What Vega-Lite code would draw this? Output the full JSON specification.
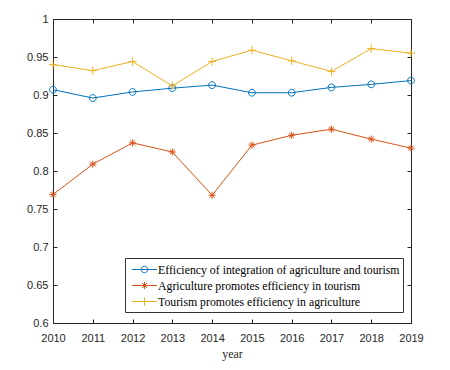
{
  "$schema": "https://vega.github.io/schema/vega-lite/v6.json",
  "autosize": "none",
  "padding": {"left": 53, "top": 19, "right": 39, "bottom": 47},
  "width": 358,
  "height": 304,
  "background": "white",
  "config": {
    "view": {"stroke": null},
    "axis": {
      "grid": false,
      "domainColor": "#262626",
      "tickColor": "#262626",
      "labelColor": "#262626",
      "labelFont": "Liberation Sans",
      "labelFontSize": 11,
      "labelFlush": false,
      "titleFont": "Liberation Serif",
      "titleFontSize": 12,
      "titleFontWeight": "normal",
      "titleColor": "#262626"
    },
    "legend": {
      "title": null,
      "orient": "none",
      "legendX": 72,
      "legendY": 239,
      "direction": "vertical",
      "padding": 3,
      "strokeColor": "#333333",
      "fillColor": "white",
      "symbolSize": 256,
      "symbolOffset": 8,
      "symbolStrokeWidth": 1,
      "rowPadding": 0,
      "labelFont": "Liberation Serif",
      "labelFontSize": 11.8,
      "labelColor": "#000000",
      "labelLimit": 400,
      "labelOffset": 5
    }
  },
  "data": {
    "values": [
      {"year": 2010, "series": "Efficiency of integration of agriculture and tourism", "value": 0.907},
      {"year": 2011, "series": "Efficiency of integration of agriculture and tourism", "value": 0.896},
      {"year": 2012, "series": "Efficiency of integration of agriculture and tourism", "value": 0.904},
      {"year": 2013, "series": "Efficiency of integration of agriculture and tourism", "value": 0.909},
      {"year": 2014, "series": "Efficiency of integration of agriculture and tourism", "value": 0.913},
      {"year": 2015, "series": "Efficiency of integration of agriculture and tourism", "value": 0.903},
      {"year": 2016, "series": "Efficiency of integration of agriculture and tourism", "value": 0.903},
      {"year": 2017, "series": "Efficiency of integration of agriculture and tourism", "value": 0.910},
      {"year": 2018, "series": "Efficiency of integration of agriculture and tourism", "value": 0.914},
      {"year": 2019, "series": "Efficiency of integration of agriculture and tourism", "value": 0.919},
      {"year": 2010, "series": "Agriculture promotes efficiency in tourism", "value": 0.769},
      {"year": 2011, "series": "Agriculture promotes efficiency in tourism", "value": 0.809},
      {"year": 2012, "series": "Agriculture promotes efficiency in tourism", "value": 0.837},
      {"year": 2013, "series": "Agriculture promotes efficiency in tourism", "value": 0.825},
      {"year": 2014, "series": "Agriculture promotes efficiency in tourism", "value": 0.768},
      {"year": 2015, "series": "Agriculture promotes efficiency in tourism", "value": 0.834},
      {"year": 2016, "series": "Agriculture promotes efficiency in tourism", "value": 0.847},
      {"year": 2017, "series": "Agriculture promotes efficiency in tourism", "value": 0.855},
      {"year": 2018, "series": "Agriculture promotes efficiency in tourism", "value": 0.842},
      {"year": 2019, "series": "Agriculture promotes efficiency in tourism", "value": 0.830},
      {"year": 2010, "series": "Tourism promotes efficiency in agriculture", "value": 0.940},
      {"year": 2011, "series": "Tourism promotes efficiency in agriculture", "value": 0.932},
      {"year": 2012, "series": "Tourism promotes efficiency in agriculture", "value": 0.944},
      {"year": 2013, "series": "Tourism promotes efficiency in agriculture", "value": 0.912},
      {"year": 2014, "series": "Tourism promotes efficiency in agriculture", "value": 0.944},
      {"year": 2015, "series": "Tourism promotes efficiency in agriculture", "value": 0.959},
      {"year": 2016, "series": "Tourism promotes efficiency in agriculture", "value": 0.945},
      {"year": 2017, "series": "Tourism promotes efficiency in agriculture", "value": 0.931},
      {"year": 2018, "series": "Tourism promotes efficiency in agriculture", "value": 0.961},
      {"year": 2019, "series": "Tourism promotes efficiency in agriculture", "value": 0.955}
    ]
  },
  "resolve": {"axis": {"x": "independent", "y": "independent"}},
  "layer": [
    {
      "mark": {"type": "line", "strokeWidth": 1},
      "encoding": {
        "x": {
          "field": "year", "type": "quantitative",
          "scale": {"domain": [2010, 2019], "nice": false, "zero": false},
          "axis": {"orient": "bottom", "values": [2010, 2011, 2012, 2013, 2014, 2015, 2016, 2017, 2018, 2019], "format": "d", "tickSize": -4, "labelPadding": 13, "title": "year", "titlePadding": 5}
        },
        "y": {
          "field": "value", "type": "quantitative",
          "scale": {"domain": [0.6, 1], "nice": false, "zero": false},
          "axis": {"orient": "left", "values": [0.6, 0.65, 0.7, 0.75, 0.8, 0.85, 0.9, 0.95, 1], "format": ".2~f", "tickSize": -4, "labelPadding": 9, "title": null}
        },
        "color": {
          "field": "series", "type": "nominal",
          "scale": {
            "domain": ["Efficiency of integration of agriculture and tourism", "Agriculture promotes efficiency in tourism", "Tourism promotes efficiency in agriculture"],
            "range": ["#0072BD", "#D95319", "#EDB120"]
          },
          "legend": {
            "encode": {
              "symbols": {
                "update": {
                  "shape": {"signal": "datum.value === 'Efficiency of integration of agriculture and tourism' ? 'M-1.5625,0H1.5625M0.41,0A0.41,0.41 0 1,1 -0.41,0A0.41,0.41 0 1,1 0.41,0' : datum.value === 'Agriculture promotes efficiency in tourism' ? 'M-1.5625,0H1.5625M0,-0.45V0.45M-0.32,-0.32L0.32,0.32M-0.32,0.32L0.32,-0.32' : 'M-1.5625,0H1.5625M0,-0.5V0.5'"},
                  "fill": {"value": "transparent"},
                  "strokeWidth": {"value": 1}
                }
              }
            }
          }
        }
      }
    },
    {
      "transform": [{"filter": "datum.series === 'Efficiency of integration of agriculture and tourism'"}],
      "mark": {"type": "point", "filled": false, "size": 64, "strokeWidth": 1, "opacity": 1, "shape": "M0.85,0A0.85,0.85 0 1,1 -0.85,0A0.85,0.85 0 1,1 0.85,0"},
      "encoding": {
        "x": {"field": "year", "type": "quantitative", "axis": null},
        "y": {"field": "value", "type": "quantitative", "axis": null},
        "color": {"field": "series", "type": "nominal", "legend": null}
      }
    },
    {
      "transform": [{"filter": "datum.series === 'Agriculture promotes efficiency in tourism'"}],
      "mark": {"type": "point", "filled": false, "size": 64, "strokeWidth": 1, "opacity": 1, "shape": "M-0.9,0H0.9M0,-0.9V0.9M-0.64,-0.64L0.64,0.64M-0.64,0.64L0.64,-0.64"},
      "encoding": {
        "x": {"field": "year", "type": "quantitative", "axis": null},
        "y": {"field": "value", "type": "quantitative", "axis": null},
        "color": {"field": "series", "type": "nominal", "legend": null}
      }
    },
    {
      "transform": [{"filter": "datum.series === 'Tourism promotes efficiency in agriculture'"}],
      "mark": {"type": "point", "filled": false, "size": 64, "strokeWidth": 1, "opacity": 1, "shape": "M-1,0H1M0,-1V1"},
      "encoding": {
        "x": {"field": "year", "type": "quantitative", "axis": null},
        "y": {"field": "value", "type": "quantitative", "axis": null},
        "color": {"field": "series", "type": "nominal", "legend": null}
      }
    },
    {
      "mark": {"type": "point", "opacity": 0},
      "encoding": {
        "x": {
          "field": "year", "type": "quantitative",
          "axis": {"orient": "top", "values": [2010, 2011, 2012, 2013, 2014, 2015, 2016, 2017, 2018, 2019], "labels": false, "tickSize": -4, "title": null}
        },
        "y": {
          "field": "value", "type": "quantitative",
          "axis": {"orient": "right", "values": [0.6, 0.65, 0.7, 0.75, 0.8, 0.85, 0.9, 0.95, 1], "labels": false, "tickSize": -4, "title": null}
        }
      }
    }
  ]
}
